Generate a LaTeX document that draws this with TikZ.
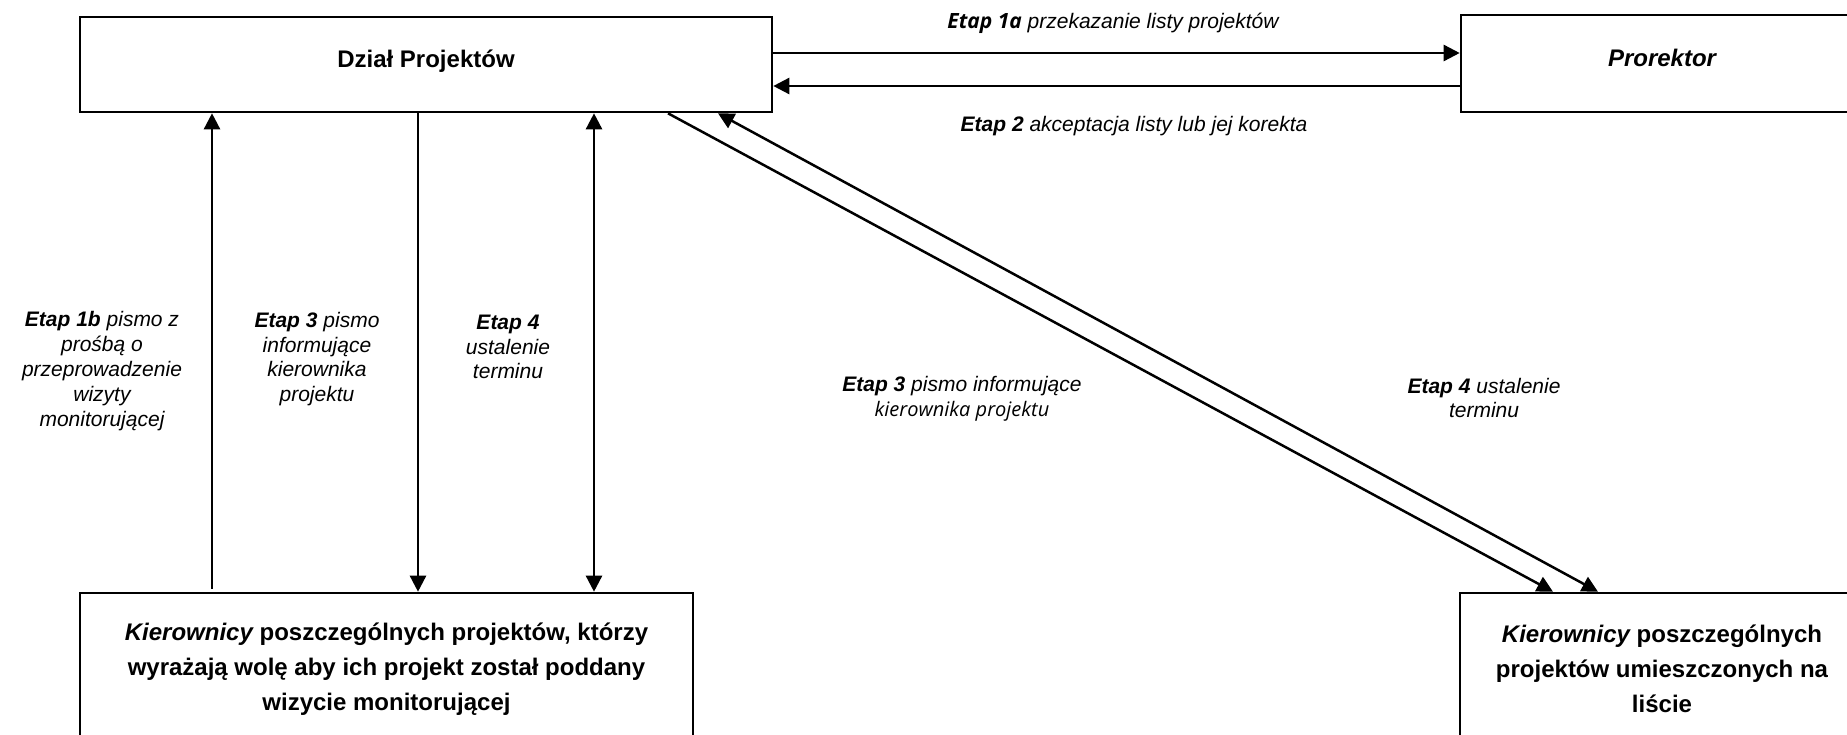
\documentclass[tikz,border=0pt]{standalone}
\usepackage{fontspec}
\setmainfont{Liberation Sans}
\newfontfamily\osans{Open Sans}
\usetikzlibrary{arrows.meta}
\begin{document}
\begin{tikzpicture}[x=0.5pt,y=-0.5pt,
  box/.style={draw, line width=1.3pt, inner sep=0pt, align=center, font=\fontsize{12}{17.4}\selectfont\bfseries},
  topbox/.style={box, text height=9pt, text depth=6.4pt},
  lbl/.style={inner sep=0pt, align=center, font=\fontsize{10.5}{12.4}\selectfont\itshape},
  tip/.tip={Triangle[length=8pt,width=8pt]},
  arr/.style={line width=1.25pt, -tip},
  darr/.style={line width=1.25pt, tip-tip}]
\useasboundingbox (0,0) rectangle (1847,734);
\clip (0,0) rectangle (1847,734);
% boxes
\node[topbox, minimum width=346pt, minimum height=47.5pt] (dp) at (426,64.5) {Dział Projektów};
\node[topbox, minimum width=201pt, minimum height=48.5pt] (pr) at (1662,63.5) {\itshape Prorektor};
\node[box, minimum width=306.5pt, minimum height=76pt] (kl) at (386.5,669)
  {{\itshape Kierownicy} poszczególnych projektów, którzy\\ wyrażają wolę aby ich projekt został poddany\\ wizycie monitorującej};
\node[box, minimum width=202pt, minimum height=76pt] (kr) at (1662,669)
  {{\itshape Kierownicy} poszczególnych\\ projektów umieszczonych na\\ liście};
% horizontal connectors
\draw[arr] (dp.east |- 0,53) -- (pr.west |- 0,53);
\draw[arr] (pr.west |- 0,86) -- (dp.east |- 0,86);
% vertical connectors
\draw[arr, shorten <=1.5pt] (kl.north -| 212,0) -- (dp.south -| 212,0);
\draw[arr] (dp.south -| 418,0) -- (kl.north -| 418,0);
\draw[darr] (dp.south -| 594,0) -- (kl.north -| 594,0);
% diagonal connectors
\draw[arr] (dp.south -| 668,0) -- (kr.north -| 1553,0);
\draw[darr] (kr.north -| 1598,0) -- (dp.south -| 718,0);
% labels
\node[lbl] (l1a) at (1113,23) {{\osans\bfseries Etap 1a} przekazanie listy projektów};
\node[lbl] (l2) at (1134,126) {\textbf{Etap 2} akceptacja listy lub jej korekta};
\node[lbl] (l1b) at (102,371) {\textbf{Etap 1b} pismo z\\ prośbą o\\ przeprowadzenie\\ wizyty\\ monitorującej};
\node[lbl] (l3a) at (317,359) {\textbf{Etap 3} pismo\\ informujące\\ kierownika\\ projektu};
\node[lbl] (l4a) at (508,347) {\textbf{Etap 4}\\ ustalenie\\ terminu};
\node[lbl] (l3b) at (962,399) {\textbf{Etap 3} pismo informujące\\ {\osans\fontsize{10}{12.4}\selectfont kierownika projektu}};
\node[lbl] (l4b) at (1484,398) {\textbf{Etap 4} ustalenie\\ terminu};
\end{tikzpicture}
\end{document}
